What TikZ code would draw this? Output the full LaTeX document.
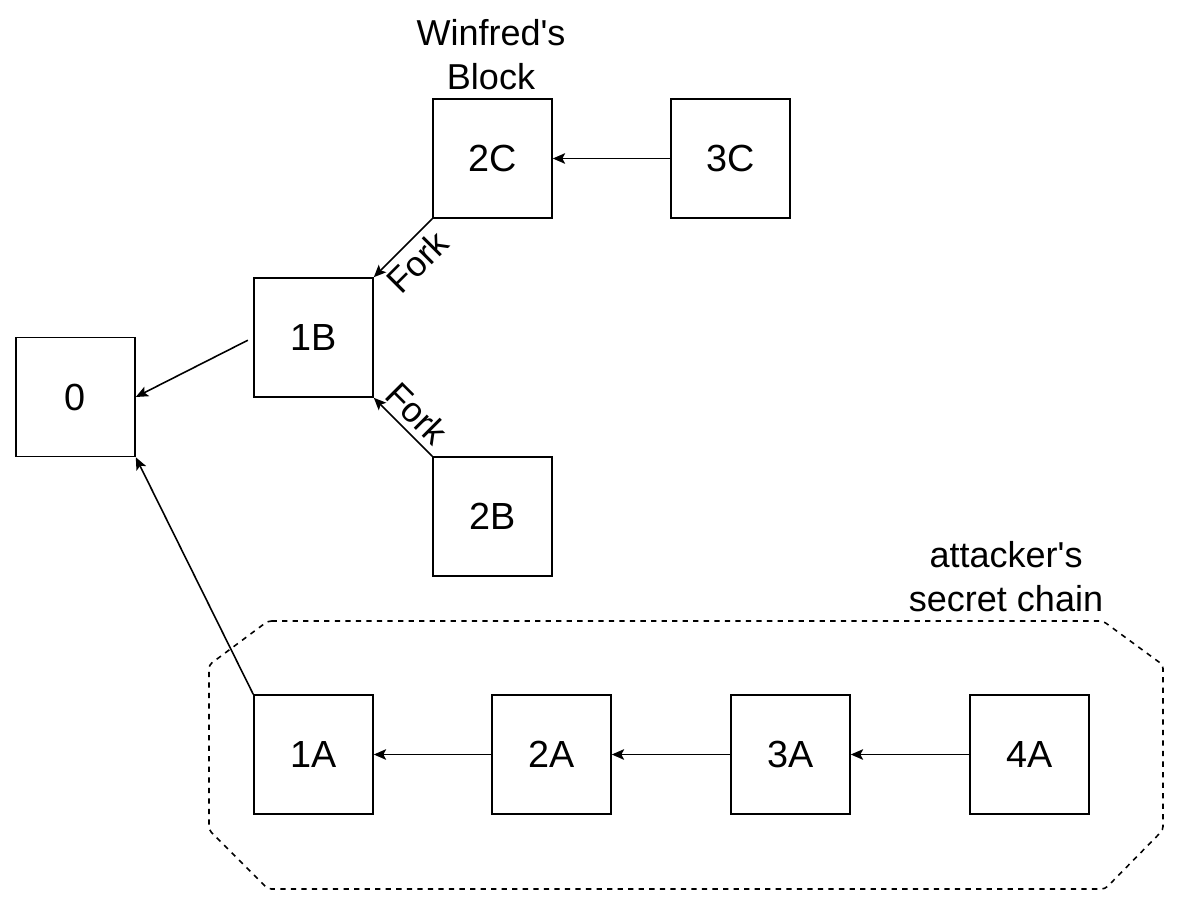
\documentclass[tikz,border=0pt]{standalone}
\usepackage{fontspec}
\setmainfont{Liberation Sans}
\usetikzlibrary{arrows.meta}
\begin{document}
\begin{tikzpicture}[x=0.02cm,y=-0.02cm,
        block/.style={draw,line width=0.9pt,minimum width=2.38cm,minimum height=2.38cm,
            inner sep=0pt,font=\fontsize{21.5}{25}\selectfont},
        link/.style={line width=0.9pt,-{Stealth[length=7pt,width=6pt,inset=1.5pt]}},
        forklabel/.style={sloped,inner sep=3.5pt,font=\fontsize{20}{24}\selectfont},
        caption/.style={align=center,font=\fontsize{20.5}{25}\selectfont}]
    \useasboundingbox (0,0) rectangle (1200,899);
    % public chain
    \node[block] (b0) at (75.5,397) {0};
    \node[block] (b1B) at (313.5,337.5) {1B};
    \node[block] (b2C) at (492.5,158.5) {2C};
    \node[block] (b3C) at (730.5,158.5) {3C};
    \node[block] (b2B) at (492.5,516.5) {2B};
    \node[caption] (winfred) at (491,55) {Winfred\textquotesingle s\\Block};
    % secret chain
    \node[block] (b1A) at (313.5,754.5) {1A};
    \node[block] (b2A) at (551.5,754.5) {2A};
    \node[block] (b3A) at (790.5,754.5) {3A};
    \node[block] (b4A) at (1029.5,754.5) {4A};
    \node[caption] (secret) at (1006,577) {attacker\textquotesingle s\\secret chain};
    \draw[dashed,dash pattern=on 3pt off 3pt,line width=0.9pt,rounded corners=2pt]
        (268,621) -- (1103,621) -- (1163,665) -- (1163,830) -- (1105,889)
        -- (268,889) -- (209,830) -- (209,665) -- cycle;
    % links
    \draw[link] (b3C.west) -- (b2C.east);
    \draw[link] (b2C.south west) -- node[forklabel,below] {Fork} (b1B.north east);
    \draw[link] (b2B.north west) -- node[forklabel,above] {Fork} (b1B.south east);
    \draw[link,shorten <=0.12cm] (b1B.west) -- (b0.east);
    \draw[link] (b1A.north west) -- (b0.south east);
    \draw[link] (b2A.west) -- (b1A.east);
    \draw[link] (b3A.west) -- (b2A.east);
    \draw[link] (b4A.west) -- (b3A.east);
\end{tikzpicture}
\end{document}
